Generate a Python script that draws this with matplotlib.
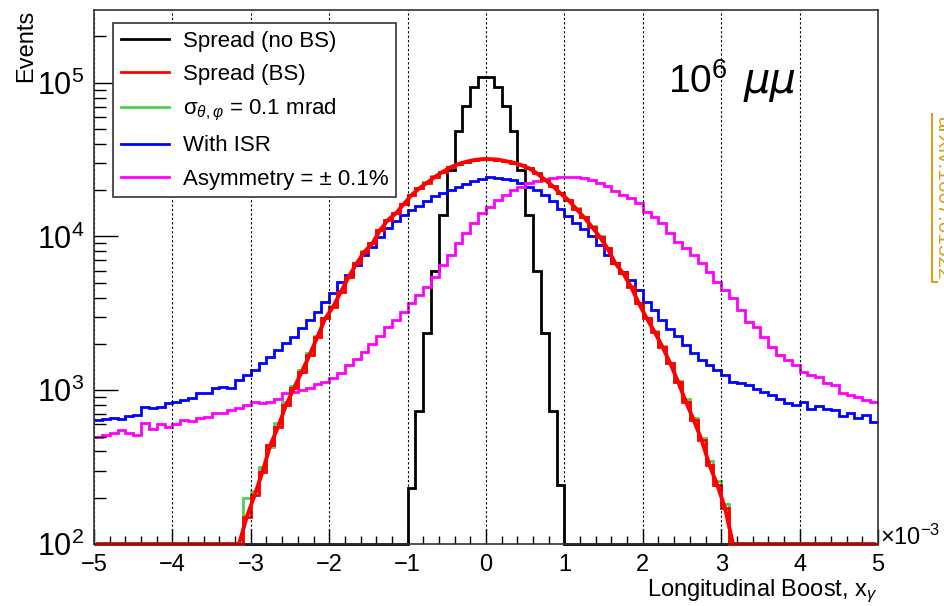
import numpy as np
import matplotlib
matplotlib.use('Agg')
import matplotlib.pyplot as plt
from matplotlib.ticker import MultipleLocator, LogLocator, LogFormatterMathtext, NullFormatter
from matplotlib.lines import Line2D

plt.rcParams['font.family'] = ['Liberation Sans', 'DejaVu Sans']
plt.rcParams['mathtext.fontset'] = 'custom'
plt.rcParams['mathtext.rm'] = 'Liberation Sans'
plt.rcParams['mathtext.it'] = 'Liberation Sans:italic'
plt.rcParams['mathtext.bf'] = 'Liberation Sans:bold'

# 100 bins of x_gamma in units of 1e-3
bin_edges = np.linspace(-5, 5, 101)
y_min, y_max = 1e2, 2.97e5

# Spread (no BS): counts, nonzero from bin 40 (x=-1.0) to bin 59
no_bs_first = 40
no_bs_counts = [230, 736, 2345, 5985, 13770, 27000, 48400, 70800, 93100, 109000,
                109000, 93100, 70800, 48400, 27000, 13770, 5985, 2345, 736, 242]

# the other histograms as log10(events)
# Spread (BS): nonzero from bin 19 (x=-3.1) to bin 80
bs_first = 19
bs_log = [2.178, 2.319, 2.47, 2.644, 2.763, 2.904, 3.012, 3.12, 3.229, 3.348,
          3.467, 3.543, 3.641, 3.738, 3.825, 3.90, 3.955, 4.042, 4.107,
          4.15, 4.21, 4.269, 4.313, 4.35, 4.388, 4.421, 4.45, 4.471, 4.486,
          4.497, 4.503, 4.503, 4.50, 4.49, 4.48, 4.464, 4.443, 4.41, 4.37,
          4.328, 4.28, 4.237, 4.18,
          4.125, 4.063, 3.998, 3.922, 3.825, 3.76, 3.673, 3.565, 3.467, 3.38,
          3.283, 3.175, 3.055, 2.925, 2.806, 2.676, 2.514, 2.384, 2.232]

# sigma_theta,phi = 0.1 mrad, same bins as Spread (BS)
sigma_log = [2.297, 2.345, 2.50, 2.63, 2.785, 2.925, 3.03, 3.13, 3.24, 3.355,
             3.47, 3.55, 3.645, 3.74, 3.83, 3.905, 3.96, 4.045, 4.105,
             4.155, 4.212, 4.27, 4.315, 4.352, 4.39, 4.42, 4.452, 4.47, 4.487,
             4.497, 4.502, 4.503, 4.50, 4.49, 4.478, 4.465, 4.445, 4.41, 4.372,
             4.33, 4.282, 4.236, 4.182,
             4.128, 4.065, 4.0, 3.925, 3.83, 3.765, 3.675, 3.57, 3.47, 3.385,
             3.29, 3.18, 3.06, 2.94, 2.82, 2.69, 2.54, 2.41, 2.262]

# With ISR, all 100 bins
isr_log = [2.806, 2.81, 2.819, 2.81, 2.83, 2.84, 2.893, 2.882, 2.893, 2.915,
           2.925, 2.936, 2.947, 2.98, 2.98, 3.012, 3.023, 3.012, 3.067, 3.10,
           3.13, 3.175, 3.218, 3.262, 3.305, 3.348, 3.402, 3.456, 3.51, 3.576,
           3.63, 3.706, 3.75, 3.815, 3.88, 3.934, 3.999, 4.053, 4.10, 4.14,
           4.17, 4.20, 4.23, 4.26, 4.28, 4.30, 4.32, 4.34, 4.36, 4.375,
           4.384, 4.38, 4.375, 4.365, 4.35, 4.32, 4.30, 4.27, 4.23, 4.18,
           4.13, 4.09, 4.05, 4.00, 3.945, 3.88, 3.825, 3.77, 3.715, 3.65,
           3.575, 3.52, 3.455, 3.40, 3.35, 3.295, 3.24, 3.195, 3.165, 3.13,
           3.10, 3.055, 3.045, 3.035, 3.01, 2.99, 2.97, 2.945, 2.915, 2.905,
           2.925, 2.88, 2.895, 2.88, 2.87, 2.83, 2.85, 2.82, 2.84, 2.795]

# Asymmetry = +-0.1%, all 100 bins
asym_log = [2.694, 2.709, 2.72, 2.741, 2.724, 2.707, 2.789, 2.746, 2.78, 2.763,
            2.78, 2.806, 2.798, 2.817, 2.828, 2.85, 2.85, 2.871, 2.882, 2.904,
            2.925, 2.919, 2.925, 2.94, 2.98, 2.99, 3.001, 3.012, 3.038, 3.055,
            3.077, 3.11, 3.164, 3.20, 3.25, 3.30, 3.355, 3.41, 3.456, 3.51,
            3.565, 3.619, 3.673, 3.738, 3.814, 3.879, 3.955, 4.02, 4.085, 4.15,
            4.193, 4.237, 4.269, 4.302, 4.323, 4.345, 4.362, 4.373, 4.378, 4.384,
            4.384, 4.384, 4.378, 4.367, 4.35, 4.328, 4.297, 4.269, 4.247, 4.215,
            4.161, 4.128, 4.085, 4.02, 3.966, 3.922, 3.879, 3.825, 3.771, 3.706,
            3.651, 3.597, 3.521, 3.445, 3.413, 3.348, 3.283, 3.229, 3.196, 3.164,
            3.12, 3.099, 3.088, 3.045, 3.034, 2.98, 2.969, 2.958, 2.936, 2.925]

labels = ['Spread (no BS)', 'Spread (BS)', r'σ$_{θ,φ}$ = 0.1 mrad',
          'With ISR', 'Asymmetry = ± 0.1%']
colors = ['black', '#ff0000', '#4fd14f', '#0000ff', '#ff00ff']


def fill_bins(values, first):
    counts = np.zeros(len(bin_edges) - 1)
    counts[first:first + len(values)] = values
    return counts


no_bs = fill_bins(no_bs_counts, no_bs_first)
bs = fill_bins(10.0 ** np.array(bs_log), bs_first)
sigma = fill_bins(10.0 ** np.array(sigma_log), bs_first)
isr = 10.0 ** np.array(isr_log)
asym = 10.0 ** np.array(asym_log)
centers = 0.5 * (bin_edges[1:] + bin_edges[:-1])

fig = plt.figure(figsize=(9.44, 6.06), dpi=100)
ax = fig.add_axes([94 / 944, 62 / 606, 784 / 944, 534 / 606])

# empty bins sit on the bottom of the log axis, as in ROOT
for counts, col in [(no_bs, colors[0]), (sigma, colors[2]), (isr, colors[3]),
                    (asym, colors[4]), (bs, colors[1])]:
    ax.stairs(np.maximum(counts, y_min), bin_edges, baseline=None,
              color=col, lw=2, clip_on=False)
ax.plot(centers, np.maximum(bs, y_min), color=colors[1], lw=2.8, clip_on=False)

ax.set_yscale('log')
ax.set_xlim(-5, 5)
ax.set_ylim(y_min, y_max)

ax.xaxis.set_major_locator(MultipleLocator(1))
ax.xaxis.set_minor_locator(MultipleLocator(0.2))
ax.yaxis.set_major_locator(LogLocator(base=10))
ax.yaxis.set_minor_locator(LogLocator(base=10, subs=np.arange(2, 10)))
ax.yaxis.set_major_formatter(LogFormatterMathtext())
ax.yaxis.set_minor_formatter(NullFormatter())
ax.tick_params(axis='x', which='major', direction='in', length=11, width=1,
               labelsize=17, pad=7, top=False)
ax.tick_params(axis='x', which='minor', direction='in', length=5.5, width=1, top=False)
ax.tick_params(axis='y', which='major', direction='in', length=17, width=1,
               labelsize=22, pad=7, right=False)
ax.tick_params(axis='y', which='minor', direction='in', length=8.5, width=1, right=False)
for sp in ax.spines.values():
    sp.set_linewidth(1.2)
    sp.set_color('#333333')

ax.grid(axis='x', which='major', color='black', linestyle=(0, (2, 2)), lw=0.8)

ax.set_xlabel(r'Longitudinal Boost, x$_{\gamma}$', fontsize=17, loc='right')
ax.xaxis.set_label_coords(1.0, -0.062)
ax.set_ylabel('Events', fontsize=17, loc='top')
ax.yaxis.set_label_coords(-0.073, 1.0)

ax.text(1.003, -0.002, r'$\times$10$^{-3}$', transform=ax.transAxes,
        fontsize=17, ha='left', va='baseline')
ax.text(0.732, 0.845, r'10$^{6}$', transform=ax.transAxes,
        fontsize=28, ha='left', va='baseline')
ax.text(0.828, 0.845, 'μμ', transform=ax.transAxes, fontsize=30,
        family='DejaVu Sans', style='italic', ha='left', va='baseline')

handles = [Line2D([], [], color=c, lw=2) for c in colors]
leg = ax.legend(handles, labels, loc='upper left', bbox_to_anchor=(0.024, 0.976),
                borderaxespad=0, fontsize=16, frameon=True, fancybox=False,
                edgecolor='#333333', framealpha=1, handlelength=2.2,
                handletextpad=0.6, labelspacing=0.55, borderpad=0.35)
leg.get_frame().set_linewidth(1.2)

# arXiv stamp on the right edge (cut by the page edge, as in the source)
gold = '#d9a21b'
fig.text(933 / 944, 1 - 198 / 606, 'arXiv:1607.01522', rotation=270, color=gold,
         fontsize=15, ha='left', va='center')
fig.add_artist(Line2D([932 / 944, 932 / 944, 937 / 944],
                      [1 - 114 / 606, 1 - 282 / 606, 1 - 282 / 606],
                      transform=fig.transFigure, color=gold, lw=1.5))

fig.savefig('out.png', dpi=100)
